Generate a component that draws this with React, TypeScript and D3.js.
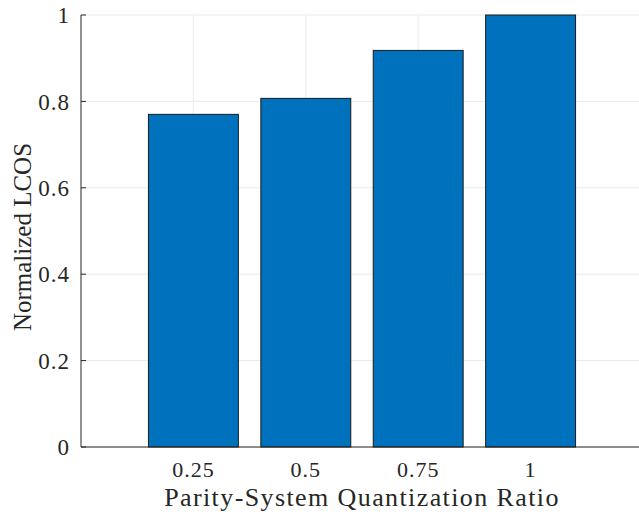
import React from "react";
import * as d3 from "d3";

const categories = ["0.25", "0.5", "0.75", "1"];
const values = [0.77, 0.807, 0.918, 1.0];
const yTicks = [0, 0.2, 0.4, 0.6, 0.8, 1];

export default function App() {
  const W = 639, H = 516;
  const left = 81, top = 15, bottom = 447, right = 643;
  const x = d3.scaleLinear().domain([0, 5]).range([left, right]);
  const y = d3.scaleLinear().domain([0, 1]).range([bottom, top]);
  const bw = (x(1) - x(0)) * 0.8;
  const font = "Liberation Serif";
  const ts = { fontFamily: font };
  return (
    <svg width={W} height={H} style={{ position: "absolute", left: 0, top: 0, background: "#fff" }}>
      {yTicks.map((t) => (
        <line key={"gy" + t} x1={left} x2={right} y1={y(t)} y2={y(t)} stroke="#ebebeb" strokeWidth={1} />
      ))}
      {categories.map((c, i) => (
        <line key={"gx" + c} x1={x(i + 1)} x2={x(i + 1)} y1={top} y2={bottom} stroke="#ebebeb" strokeWidth={1} />
      ))}
      {values.map((v, i) => (
        <rect key={"b" + i} x={x(i + 1) - bw / 2} y={y(v)} width={bw} height={y(0) - y(v)}
          fill="#0072BD" stroke="#1a1a1a" strokeWidth={1} />
      ))}
      <line x1={left} x2={right} y1={bottom} y2={bottom} stroke="#262626" strokeWidth={1} />
      <line x1={left} x2={left} y1={top} y2={bottom} stroke="#262626" strokeWidth={1} />
      {yTicks.map((t) => (
        <g key={"ty" + t}>
          <line x1={left} x2={left + 5} y1={y(t)} y2={y(t)} stroke="#262626" strokeWidth={1} />
          <text x={left - 11} y={y(t)} dy="0.36em" textAnchor="end" style={{ ...ts, letterSpacing: "1px" }} fontSize={23} fill="#262626">
            {d3.format("~g")(t)}
          </text>
        </g>
      ))}
      {categories.map((c, i) => (
        <text key={"tx" + c} x={x(i + 1)} y={477} textAnchor="middle" style={{ ...ts, letterSpacing: "1px" }} fontSize={22} fill="#262626">
          {c}
        </text>
      ))}
      <text x={362} y={506} textAnchor="middle" style={{ ...ts, letterSpacing: "1.4px" }} fontSize={26} fill="#262626">
        Parity-System Quantization Ratio
      </text>
      <text transform={`translate(31,${237}) rotate(-90)`} textAnchor="middle" style={ts} fontSize={25} fill="#262626">
        Normalized LCOS
      </text>
    </svg>
  );
}
